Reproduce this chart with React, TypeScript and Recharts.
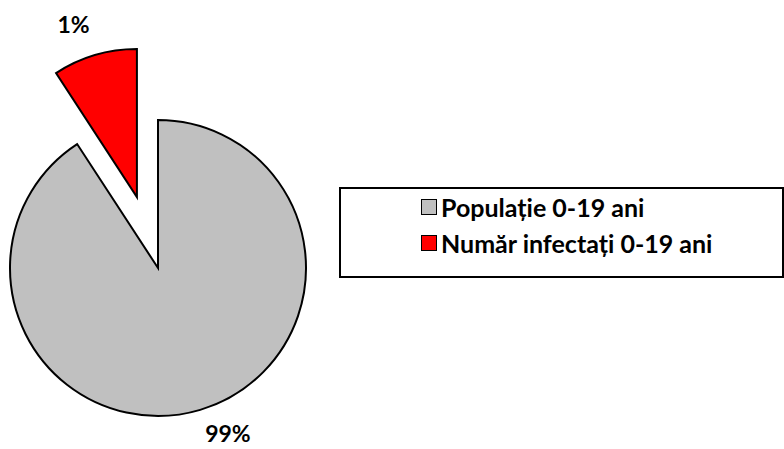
import { PieChart, Pie, Cell, Legend } from "recharts";

// slice order: infected first so it starts at 12 o'clock
const categories = ["Număr infectați 0-19 ani", "Populație 0-19 ani"];
const values = [9.2, 90.8];
const labels = ["1%", "99%"];
const colors = ["#ff0000", "#c0c0c0"];
const legendOrder = [1, 0];

const data = categories.map((name, i) => ({ name, value: values[i] }));

const FONT = "Lato, Carlito, Calibri, 'Open Sans', sans-serif";

const CX = 158;
const CY = 268;
const R = 148;
// explode distance for the red slice, along its bisector
const EXPLODE = 74;

function renderLabel(props: any) {
  const { cx, cy, midAngle, outerRadius, index } = props;
  const rad = (Math.PI / 180) * midAngle;
  const r = outerRadius + 28;
  const x = cx + r * Math.cos(rad);
  const y = cy - r * Math.sin(rad);
  return (
    <text
      x={x > cx ? x - 3 : x + 3}
      y={y - 4}
      textAnchor={x > cx ? "start" : "end"}
      dominantBaseline="central"
      fill="#000"
      fontFamily={FONT}
      fontWeight="bold"
      fontSize={23}
    >
      {labels[index]}
    </text>
  );
}

function LegendBox() {
  return (
    <div
      style={{
        boxSizing: "border-box",
        width: 445,
        height: 91,
        border: "2px solid #000",
        background: "#fff",
        padding: "0 0 0 80px",
        fontFamily: FONT,
        fontWeight: "bold",
        fontSize: 25,
        color: "#000",
      }}
    >
      {legendOrder.map((i) => (
        <div key={i} style={{ display: "flex", alignItems: "center", height: 36 }}>
          <span
            style={{
              display: "inline-block",
              width: 14,
              height: 14,
              border: "1.5px solid #000",
              background: colors[i],
              marginRight: 4,
            }}
          />
          <span>{categories[i]}</span>
        </div>
      ))}
    </div>
  );
}

export default function App() {
  const midRed = 90 + (values[0] / (values[0] + values[1])) * 360 / 2;
  const rad = (Math.PI / 180) * midRed;
  const redCx = CX + EXPLODE * Math.cos(rad);
  const redCy = CY - EXPLODE * Math.sin(rad);

  return (
    <div style={{ position: "absolute", left: 0, top: 0, width: 784, height: 449, background: "#fff" }}>
      <PieChart width={784} height={449} margin={{ top: 0, right: 0, bottom: 0, left: 0 }}>
        <Pie
          data={data}
          dataKey="value"
          cx={CX}
          cy={CY}
          outerRadius={R}
          startAngle={90}
          endAngle={450}
          stroke="#000"
          strokeWidth={2}
          label={(p: any) => (p.index === 1 ? renderLabel(p) : null)}
          labelLine={false}
          isAnimationActive={false}
        >
          {data.map((d, i) => (
            <Cell key={d.name} fill={i === 1 ? colors[i] : "none"} stroke={i === 1 ? "#000" : "none"} />
          ))}
        </Pie>
        <Pie
          data={data}
          dataKey="value"
          cx={redCx}
          cy={redCy}
          outerRadius={R}
          startAngle={90}
          endAngle={450}
          stroke="#000"
          strokeWidth={2}
          label={(p: any) => (p.index === 0 ? renderLabel(p) : null)}
          labelLine={false}
          isAnimationActive={false}
        >
          {data.map((d, i) => (
            <Cell key={d.name} fill={i === 0 ? colors[i] : "none"} stroke={i === 0 ? "#000" : "none"} />
          ))}
        </Pie>
        <Legend
          content={() => <LegendBox />}
          wrapperStyle={{ left: 339, top: 187, width: 445, height: 91 }}
        />
      </PieChart>
    </div>
  );
}
